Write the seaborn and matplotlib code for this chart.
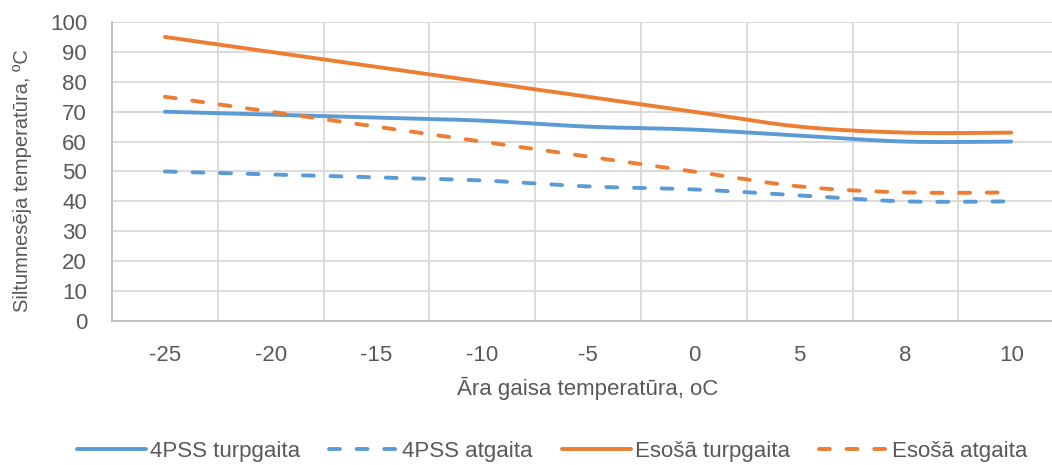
import numpy as np
import pandas as pd
import matplotlib
matplotlib.use("Agg")
import matplotlib.pyplot as plt
from matplotlib import font_manager
import seaborn as sns

# Outdoor air temperature categories and heat-carrier temperatures
x_labels = ["-25", "-20", "-15", "-10", "-5", "0", "5", "8", "10"]
pss_supply = [70, 69, 68, 67, 65, 64, 62, 60, 60]
pss_return = [50, 49, 48, 47, 45, 44, 42, 40, 40]
old_supply = [95, 90, 85, 80, 75, 70, 65, 63, 63]
old_return = [75, 70, 65, 60, 55, 50, 45, 43, 43]

series_names = ["4PSS turpgaita", "4PSS atgaita", "Esošā turpgaita", "Esošā atgaita"]
series_values = [pss_supply, pss_return, old_supply, old_return]

BLUE = "#5B9BD5"
ORANGE = "#ED7D31"
TEXT = "#595959"
GRID = "#D9D9D9"

sns.set_theme(style="white")


def pick_font():
    for fam in ["Liberation Sans Narrow", "Arial Narrow", "Liberation Sans"]:
        try:
            font_manager.findfont(font_manager.FontProperties(family=fam),
                                  fallback_to_default=False)
            return fam
        except Exception:
            continue
    return "DejaVu Sans"


FONT = pick_font()
plt.rcParams["font.family"] = [FONT, "DejaVu Sans"]
plt.rcParams["lines.solid_capstyle"] = "round"
plt.rcParams["lines.dash_capstyle"] = "round"


def smooth(values, n=40):
    """Bezier smoothing between category points (Catmull-Rom control points)."""
    pts = np.column_stack([np.arange(len(values), dtype=float), np.asarray(values, float)])
    ext = np.vstack([pts[0], pts, pts[-1]])
    xs, ys = [], []
    t = np.linspace(0, 1, n)
    for i in range(len(pts) - 1):
        p0, p1, p2, p3 = ext[i], ext[i + 1], ext[i + 2], ext[i + 3]
        c1 = p1 + (p2 - p0) / 6.0
        c2 = p2 - (p3 - p1) / 6.0
        seg = ((1 - t) ** 3)[:, None] * p1 + (3 * (1 - t) ** 2 * t)[:, None] * c1 \
            + (3 * (1 - t) * t ** 2)[:, None] * c2 + (t ** 3)[:, None] * p2
        if i > 0:
            seg = seg[1:]
        xs.append(seg[:, 0])
        ys.append(seg[:, 1])
    return np.concatenate(xs), np.concatenate(ys)


frames = []
for name, vals in zip(series_names, series_values):
    sx, sy = smooth(vals)
    frames.append(pd.DataFrame({"x": sx, "y": sy, "series": name}))
df = pd.concat(frames, ignore_index=True)

fig = plt.figure(figsize=(10.52, 4.65), dpi=100)
ax = fig.add_axes([0.1065, 0.3097, 0.905, 0.643])

LW = 2.8
palette = {series_names[0]: BLUE, series_names[1]: BLUE,
           series_names[2]: ORANGE, series_names[3]: ORANGE}
dashes = {series_names[0]: "", series_names[1]: (2.8, 4.3),
          series_names[2]: "", series_names[3]: (2.8, 4.3)}

sns.lineplot(data=df, x="x", y="y", hue="series", style="series",
             hue_order=series_names, style_order=series_names,
             palette=palette, dashes=dashes, sort=False, estimator=None,
             linewidth=LW, ax=ax, legend=True)

n = len(x_labels)
ax.set_xlim(-0.5, n - 0.5)
ax.set_ylim(0, 100)
ax.set_yticks(np.arange(0, 101, 10))
ax.set_xticks(np.arange(n))
ax.set_xticklabels(x_labels)

# Gridlines: horizontal at each major tick, vertical between categories
ax.set_xticks(np.arange(-0.5, n, 1.0), minor=True)
ax.grid(False)
ax.grid(axis="y", which="major", color=GRID, linewidth=1.3)
ax.grid(axis="x", which="minor", color=GRID, linewidth=1.3)
ax.set_axisbelow(True)

for side in ["top", "right"]:
    ax.spines[side].set_visible(False)
for side in ["left", "bottom"]:
    ax.spines[side].set_color("#BFBFBF")
    ax.spines[side].set_linewidth(1.3)

ax.tick_params(axis="both", which="both", length=0, labelsize=16, colors=TEXT)
ax.tick_params(axis="x", pad=17)
ax.tick_params(axis="y", pad=18)

ax.set_xlabel("Āra gaisa temperatūra, oC", fontsize=16, color=TEXT, labelpad=8)
ax.set_ylabel("Siltumnesēja temperatūra, ºC", fontsize=14.5, color=TEXT)
ax.yaxis.set_label_coords(-0.084, 0.47)

leg = ax.get_legend()
handles = leg.legend_handles
labels = [t.get_text() for t in leg.get_texts()]
leg.remove()
for h in handles:
    h.set_linewidth(LW)
fig.legend(handles, labels, loc="center", bbox_to_anchor=(0.525, 0.03),
           ncol=4, frameon=False, fontsize=16, handlelength=3.1,
           handletextpad=0.2, columnspacing=1.3, labelcolor=TEXT)

fig.savefig("out.png", dpi=100)
